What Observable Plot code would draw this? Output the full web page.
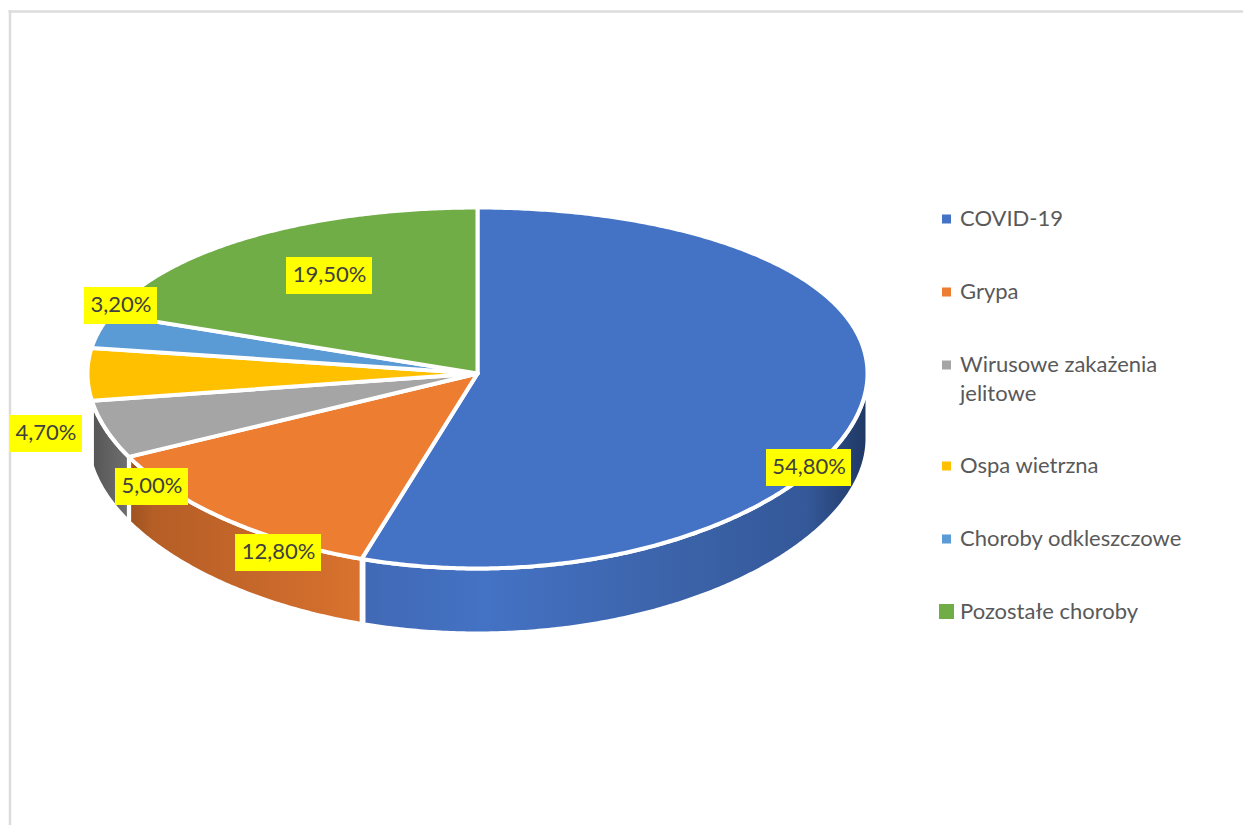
<!DOCTYPE html>
<html lang="pl">
<head>
<meta charset="utf-8">
<style>
  html,body{margin:0;padding:0;background:#fff;overflow:hidden}
  svg{display:block}
</style>
<script src="https://cdn.jsdelivr.net/npm/d3@7"></script>
<script src="https://cdn.jsdelivr.net/npm/@observablehq/plot@0.6"></script>
</head>
<body>
<script>
const categories = ["COVID-19","Grypa","Wirusowe zakażenia\njelitowe","Ospa wietrzna","Choroby odkleszczowe","Pozostałe choroby"];
const values = [54.8,12.8,5.0,4.7,3.2,19.5];
const colors = ["#4472c4","#ed7d31","#a5a5a5","#ffc000","#5b9bd5","#70ad47"];

// layout of the picture, in pixels
const W = 1243, H = 825;
const cx = 477, cy = 373, rx = 390, ryUnit = 179.3, tilt = 0.0803, depth = 65;
const labelCX = [808.5,278,151.5,45.5,120.5,329];
const labelCY = [467.5,552.5,486.5,433.5,305.5,275.5];
const labelHalfW = [42.5,43,36.5,36.5,36.5,43];
const labelHalfH = 18.5;
const labelTextShift = -1.5;
const legendTextY = [216,289,376.5,463,536,609];
const legendSwatchY = [219,292,365,466,539,611.5];
const legendSwatchHalf = [4.5,4.5,4.5,4.5,4.5,7.5];

const ux = p => (p - cx) / rx;
const uy = p => (p - cy) / ryUnit;
const rim = deg => {
  const t = deg * Math.PI / 180, v = -Math.cos(t);
  return [Math.sin(t), v / (1 - tilt * v)];
};
const angleOf = p => p * 3.6;

// slices accumulate clockwise from the top
const starts = d3.cumsum([0, ...values.slice(0, -1)]);
const topPts = [];
categories.forEach((name, i) => {
  const a0 = angleOf(starts[i]), a1 = angleOf(starts[i] + values[i]);
  topPts.push({name, x: 0, y: 0});
  for (let a = a0; a < a1; a += 0.5) { const [x, y] = rim(a); topPts.push({name, x, y}); }
  const [x, y] = rim(a1); topPts.push({name, x, y});
  topPts.push({name, x: 0, y: 0});
});

// only the front walls that the reference shows
function wall(a0, a1) {
  const up = [], down = [];
  for (let a = a0; a <= a1; a += 0.5) {
    const [x, y] = rim(a);
    up.push({x, y}); down.push({x, y: y + depth / ryUnit});
  }
  const pts = [...up, ...down.reverse()];
  pts.push(pts[0]);
  return pts;
}
const end0 = angleOf(values[0]), end1 = angleOf(values[0] + values[1]), end2 = angleOf(values[0] + values[1] + values[2]);
const wallStyle = {x: "x", y: "y", stroke: "#fff", strokeWidth: 4};

const labelRows = values.map((v, i) => ({
  text: v.toFixed(2).replace(".", ",") + "%",
  x: ux(labelCX[i]), y: uy(labelCY[i] + labelTextShift),
  x1: ux(labelCX[i] - labelHalfW[i]), x2: ux(labelCX[i] + labelHalfW[i]),
  y1: uy(labelCY[i] - labelHalfH), y2: uy(labelCY[i] + labelHalfH)
}));
const legendRows = categories.map((name, i) => ({
  name,
  tx: ux(959.5), ty: uy(legendTextY[i]),
  x1: ux(946.5 - legendSwatchHalf[i]), x2: ux(946.5 + legendSwatchHalf[i]),
  y1: uy(legendSwatchY[i] - legendSwatchHalf[i]), y2: uy(legendSwatchY[i] + legendSwatchHalf[i])
}));
const font = "Lato, 'Open Sans', sans-serif";

const plot = Plot.plot({
  width: W, height: H,
  margin: 0,
  x: {domain: [ux(0), ux(W)], range: [0, W], axis: null},
  y: {domain: [uy(0), uy(H)], range: [0, H], axis: null},
  color: {domain: categories, range: colors},
  marks: [
    Plot.ruleY([uy(11)], {x1: ux(8.5), x2: ux(W), stroke: "#dcdcdc", strokeWidth: 2.5}),
    Plot.ruleX([ux(9.5)], {y1: uy(10), y2: uy(H), stroke: "#dcdcdc", strokeWidth: 2.5}),
    Plot.line(wall(90, end0), {...wallStyle, fill: "url(#wallBlue)"}),
    Plot.line(wall(end0, end1), {...wallStyle, fill: "url(#wallOrange)"}),
    Plot.line(wall(end1, end2), {...wallStyle, fill: "url(#wallGray)"}),
    Plot.line(topPts, {x: "x", y: "y", z: "name", fill: "name", stroke: "#fff", strokeWidth: 4}),
    Plot.rect(labelRows, {x1: "x1", x2: "x2", y1: "y1", y2: "y2", fill: "#ffff00"}),
    Plot.text(labelRows, {x: "x", y: "y", text: "text", fill: "#404040", fontSize: 22, fontFamily: font}),
    Plot.rect(legendRows, {x1: "x1", x2: "x2", y1: "y1", y2: "y2", fill: "name"}),
    Plot.text(legendRows, {x: "tx", y: "ty", text: "name", textAnchor: "start", lineHeight: 1.32, fill: "#595959", fontSize: 22, fontFamily: font})
  ]
});

const gradients = {
  wallBlue: [[0,"#4169b5"],[0.24,"#4472c4"],[0.62,"#3c63a9"],[0.88,"#345899"],[1,"#1f3864"]],
  wallOrange: [[0,"#9c5220"],[0.1,"#b55e26"],[0.5,"#c4662a"],[1,"#d9722e"]],
  wallGray: [[0,"#555555"],[1,"#707070"]]
};
const defs = d3.select(plot).insert("defs", ":first-child");
for (const [id, stops] of Object.entries(gradients)) {
  const g = defs.append("linearGradient").attr("id", id).attr("x1", 0).attr("x2", 1).attr("y1", 0).attr("y2", 0);
  for (const [o, c] of stops) g.append("stop").attr("offset", o).attr("stop-color", c);
}
document.body.appendChild(plot);
</script>
</body>
</html>
